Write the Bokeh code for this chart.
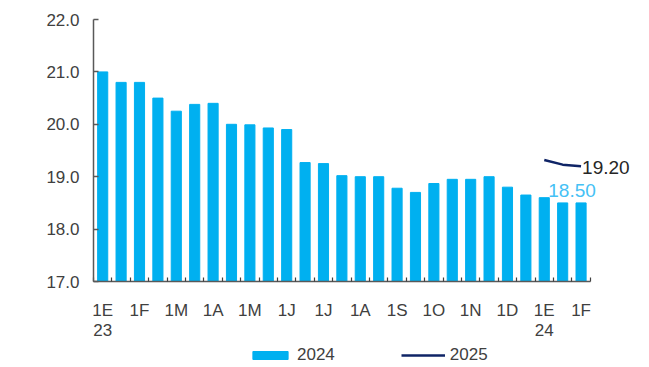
from bokeh.plotting import figure
from bokeh.layouts import column
from bokeh.models import (ColumnDataSource, FixedTicker, Legend, LegendItem,
                          Range1d, NumeralTickFormatter)
from bokeh.core.properties import value
from bokeh.embed import file_html
from bokeh.resources import INLINE

# ---- data ----
tick_labels = ["1E\n23", "1F", "1M", "1A", "1M", "1J", "1J", "1A", "1S",
               "1O", "1N", "1D", "1E\n24", "1F"]
values_2024 = [21.00, 20.80, 20.80, 20.50, 20.25, 20.38, 20.40, 20.00, 19.99,
               19.93, 19.90, 19.27, 19.25, 19.02, 19.00, 19.00, 18.78, 18.70,
               18.87, 18.95, 18.95, 19.00, 18.80, 18.65, 18.60, 18.50, 18.50]
idx_2025 = [24, 25, 26]
values_2025 = [19.32, 19.23, 19.20]
series_names = ["2024", "2025"]
label_2024 = "18.50"
label_2025 = "19.20"

BAR = "#00B0F0"
NAVY = "#0F2466"
TXT = "#404040"
FONT = "Liberation Sans"

n = len(values_2024)
xs = list(range(n))
src = ColumnDataSource(dict(x=xs, y=values_2024))
line_src = ColumnDataSource(dict(x=idx_2025, y=values_2025))

XR = (-0.5, n - 0.5 + 2.35)

p = figure(width=633, height=343, output_backend="svg", toolbar_location=None,
           x_range=Range1d(*XR), y_range=Range1d(17, 22),
           min_border_left=93, min_border_top=19, min_border_right=0,
           min_border_bottom=61)
p.outline_line_color = None
p.grid.grid_line_color = None
p.background_fill_color = "white"
p.border_fill_color = "white"

p.vbar(x="x", top="y", bottom=17, width=0.55, color=BAR, source=src)
p.line(x="x", y="y", line_color=NAVY, line_width=2.5, source=line_src)

# data labels anchored on last points
p.text(x=[idx_2025[-1]], y=[values_2025[-1]], text=[label_2025],
       text_font=value(FONT), text_font_size="19px", text_color="#262626",
       text_align="left", text_baseline="middle", x_offset=1, y_offset=1)
p.text(x=[n - 1], y=[values_2024[-1]], text=[label_2024],
       text_font=value(FONT), text_font_size="19px", text_color="#45C1F5",
       text_align="center", text_baseline="bottom", x_offset=-9, y_offset=-6)

# y axis
ya = p.yaxis[0]
ya.ticker = FixedTicker(ticks=[17, 18, 19, 20, 21, 22])
ya.formatter = NumeralTickFormatter(format="0.0")
ya.major_tick_in = 5
ya.major_tick_out = 0
ya.minor_tick_line_color = None
ya.axis_line_color = "#595959"
ya.axis_line_width = 1.5
ya.major_tick_line_color = "#595959"
ya.major_tick_line_width = 1.5
ya.major_label_text_font = FONT
ya.major_label_text_font_size = "17px"
ya.major_label_text_color = TXT
ya.major_label_standoff = 14

# x axis
xa = p.xaxis[0]
major = list(range(0, n, 2))
xa.bounds = (-0.5, n - 0.5)
xa.ticker = FixedTicker(ticks=major, minor_ticks=[i + 0.5 for i in range(-1, n)])
xa.major_label_overrides = {m: lab for m, lab in zip(major, tick_labels)}
xa.major_tick_line_color = None
xa.minor_tick_in = 4
xa.minor_tick_out = 0
xa.minor_tick_line_color = "#404040"
xa.minor_tick_line_width = 1.2
xa.axis_line_color = "#595959"
xa.axis_line_width = 1.5
xa.major_label_text_font = FONT
xa.major_label_text_font_size = "17px"
xa.major_label_text_color = TXT
xa.major_label_standoff = 13
xa.major_label_text_line_height = 1.08

# legend strip (hidden proxy renderers share the same data)
lg = figure(width=633, height=22, output_backend="svg", toolbar_location=None,
            x_range=Range1d(*XR), y_range=Range1d(0, 1),
            min_border_left=93, min_border_right=0, min_border_top=0,
            min_border_bottom=0)
lg.outline_line_color = None
lg.axis.visible = False
lg.grid.grid_line_color = None
lg.border_fill_color = "white"
r_bar = lg.vbar(x="x", top="y", bottom=17, width=0.55, color=BAR, source=src,
                visible=False)
r_line = lg.line(x="x", y="y", line_color=NAVY, line_width=2.5, source=line_src,
                 visible=False)
legend = Legend(items=[LegendItem(label=series_names[0], renderers=[r_bar]),
                       LegendItem(label=series_names[1], renderers=[r_line])],
                orientation="horizontal", location=(155, 0),
                glyph_width=44, glyph_height=10, spacing=66, label_standoff=5,
                label_text_font=FONT, label_text_font_size="17px",
                label_text_color=TXT, border_line_color=None,
                background_fill_alpha=0, padding=0, margin=0,
                inactive_fill_alpha=0)
lg.add_layout(legend, "center")

open("out.html", "w").write(file_html(column(p, lg), INLINE))
